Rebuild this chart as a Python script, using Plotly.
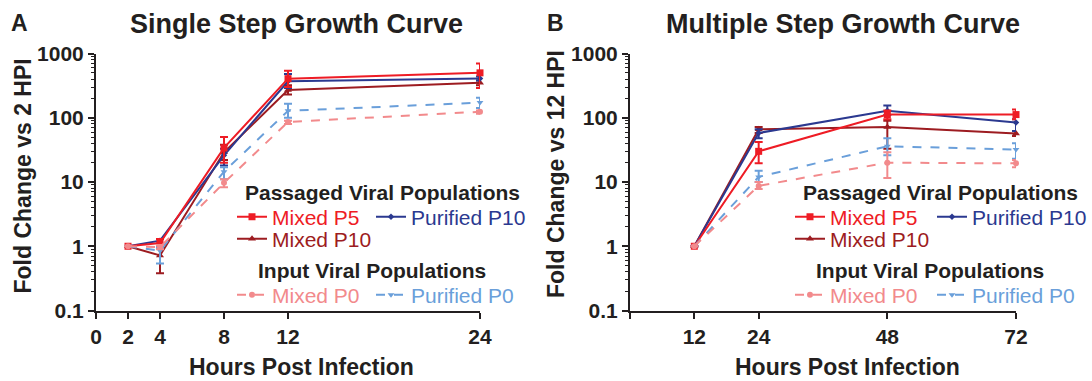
import plotly.graph_objects as go

W, H = 1092, 381
FONT = "Liberation Sans, Arial, sans-serif"
INK = "#231F20"

# ---------------- data ----------------
single_hours = [2, 4, 8, 12, 24]
single_mixed_p5 = [1, 1.12, 34, 406, 500]
single_mixed_p5_hi = [1, 1.3, 50, 540, 700]
single_mixed_p5_lo = [1, 0.95, 20, 300, 290]
single_purified_p10 = [1, 1.22, 26, 370, 410]
single_purified_p10_hi = [1, 1.3, 33, 480, 440]
single_purified_p10_lo = [1, 1.1, 18, 290, 380]
single_mixed_p10 = [1, 0.72, 29, 270, 350]
single_mixed_p10_hi = [1, 0.95, 38, 320, 380]
single_mixed_p10_lo = [1, 0.38, 22, 230, 320]
single_mixed_p0 = [1, 0.97, 9.7, 86, 124]
single_mixed_p0_hi = [1, 1.05, 11, 90, 130]
single_mixed_p0_lo = [1, 0.9, 8.3, 80, 115]
single_purified_p0 = [1, 0.85, 14.5, 128, 172]
single_purified_p0_hi = [1, 0.95, 17, 165, 205]
single_purified_p0_lo = [1, 0.54, 11, 100, 142]

multi_hours = [12, 24, 48, 72]
multi_mixed_p5 = [1, 30, 112, 112]
multi_mixed_p5_hi = [1, 42, 130, 135]
multi_mixed_p5_lo = [1, 19.5, 95, 95]
multi_purified_p10 = [1, 58, 128, 84]
multi_purified_p10_hi = [1, 66, 155, 95]
multi_purified_p10_lo = [1, 48, 110, 62]
multi_mixed_p10 = [1, 66, 72, 57]
multi_mixed_p10_hi = [1, 72, 90, 62]
multi_mixed_p10_lo = [1, 58, 33, 52]
multi_mixed_p0 = [1, 8.7, 20, 19.5]
multi_mixed_p0_hi = [1, 10, 29, 22]
multi_mixed_p0_lo = [1, 7.8, 11.5, 17]
multi_purified_p0 = [1, 12, 36, 32]
multi_purified_p0_hi = [1, 15, 48, 40]
multi_purified_p0_lo = [1, 10, 26, 23]

single_xticks = [0, 2, 4, 8, 12, 24]
single_xticktext = ["0", "2", "4", "8", "12", "24"]
multi_xticks = [0, 12, 24, 48, 72]
multi_xticktext = ["", "12", "24", "48", "72"]
y_ticks = [0.1, 1, 10, 100, 1000]
y_ticktext = ["0.1", "1", "10", "100", "1000"]

# ---------------- styles ----------------
STY = {
    "Mixed P5": dict(color="#EE1C25", dash="solid", symbol="square", size=7),
    "Purified P10": dict(color="#2B3990", dash="solid", symbol="diamond", size=5),
    "Mixed P10": dict(color="#9D1C21", dash="solid", symbol="triangle-up", size=7),
    "Mixed P0": dict(color="#F28A8C", dash="dash", symbol="circle", size=6),
    "Purified P0": dict(color="#6A9FDA", dash="dash", symbol="triangle-down", size=6),
}


def px_x(p):
    return p / W


def px_y(p):
    return 1 - p / H


fig = go.Figure()


def add(name, x, y, hi, lo, xa, ya, legend):
    s = STY[name]
    fig.add_trace(go.Scatter(
        x=x, y=y, mode="lines+markers", xaxis=xa, yaxis=ya, legend=legend,
        name=f"<span style='color:{s['color']}'>{name}</span>",
        line=dict(color=s["color"], width=2, dash=s["dash"]),
        marker=dict(color=s["color"], symbol=s["symbol"], size=s["size"]),
        error_y=dict(type="data", symmetric=False,
                     array=[h - v for h, v in zip(hi, y)],
                     arrayminus=[v - l for v, l in zip(y, lo)],
                     color=s["color"], thickness=2, width=4),
        cliponaxis=False, showlegend=True,
    ))


# Left panel
add("Mixed P10", single_hours, single_mixed_p10, single_mixed_p10_hi, single_mixed_p10_lo, "x", "y", "legend3")
add("Purified P10", single_hours, single_purified_p10, single_purified_p10_hi, single_purified_p10_lo, "x", "y", "legend2")
add("Mixed P5", single_hours, single_mixed_p5, single_mixed_p5_hi, single_mixed_p5_lo, "x", "y", "legend")
add("Purified P0", single_hours, single_purified_p0, single_purified_p0_hi, single_purified_p0_lo, "x", "y", "legend5")
add("Mixed P0", single_hours, single_mixed_p0, single_mixed_p0_hi, single_mixed_p0_lo, "x", "y", "legend4")

# Right panel
add("Mixed P10", multi_hours, multi_mixed_p10, multi_mixed_p10_hi, multi_mixed_p10_lo, "x2", "y2", "legend8")
add("Purified P10", multi_hours, multi_purified_p10, multi_purified_p10_hi, multi_purified_p10_lo, "x2", "y2", "legend7")
add("Mixed P5", multi_hours, multi_mixed_p5, multi_mixed_p5_hi, multi_mixed_p5_lo, "x2", "y2", "legend6")
add("Purified P0", multi_hours, multi_purified_p0, multi_purified_p0_hi, multi_purified_p0_lo, "x2", "y2", "legend10")
add("Mixed P0", multi_hours, multi_mixed_p0, multi_mixed_p0_hi, multi_mixed_p0_lo, "x2", "y2", "legend9")

minor_vals = [k * 10 ** e for e in range(-1, 3) for k in range(2, 10)]

axis_common = dict(showline=True, linecolor=INK, linewidth=2, ticks="outside",
                   tickcolor=INK, tickwidth=2, ticklen=6, showgrid=False, zeroline=False,
                   automargin=False,
                   tickfont=dict(family=FONT, size=21, color=INK, weight="bold"))

y_dom = [px_y(310.5), px_y(53.5)]

yaxis_common = dict(axis_common, type="log", range=[-1, 3], tickvals=y_ticks, ticktext=y_ticktext,
                    domain=y_dom,
                    minor=dict(tickvals=minor_vals, ticks="outside", ticklen=3, tickwidth=1,
                               tickcolor=INK, showgrid=False))

legend_common = dict(orientation="h", bgcolor="rgba(0,0,0,0)", borderwidth=0,
                     font=dict(family=FONT, size=21), itemwidth=30,
                     xanchor="left", yanchor="middle", tracegroupgap=0,
                     itemclick=False, itemdoubleclick=False)

# legend anchor positions (px): text starts ~42px right of the anchor
LEG_POS = {
    "legend": (232, 217), "legend2": (371, 217), "legend3": (232, 239),
    "legend4": (232, 295), "legend5": (371, 295),
    "legend6": (790, 217), "legend7": (932, 217), "legend8": (790, 239),
    "legend9": (790, 295), "legend10": (932, 295),
}
legends = {k: dict(legend_common, x=px_x(v[0]), y=px_y(v[1])) for k, v in LEG_POS.items()}

fig.update_layout(
    width=W, height=H, margin=dict(l=0, r=0, t=0, b=0, pad=0, autoexpand=False),
    paper_bgcolor="white", plot_bgcolor="white",
    font=dict(family=FONT, color=INK),
    xaxis=dict(axis_common, domain=[px_x(96), px_x(480)], range=[0, 24],
               tickvals=single_xticks, ticktext=single_xticktext, anchor="y"),
    yaxis=dict(yaxis_common, anchor="x"),
    xaxis2=dict(axis_common, domain=[px_x(630), px_x(1016)], range=[0, 72],
                tickvals=multi_xticks, ticktext=multi_xticktext, anchor="y2"),
    yaxis2=dict(yaxis_common, anchor="x2"),
    showlegend=True,
    **legends,
)


def ann(text, x, y, size, bold=True, angle=0, color=INK):
    fig.add_annotation(text=text, x=px_x(x), y=px_y(y), xref="paper", yref="paper",
                       xanchor="center", yanchor="middle", showarrow=False, textangle=angle,
                       font=dict(family=FONT, size=size, color=color,
                                 weight="bold" if bold else "normal"))


ann("A", 19.5, 23, 23)
ann("Single Step Growth Curve", 296, 24, 27)
ann("B", 555, 23, 23)
ann("Multiple Step Growth Curve", 843, 24, 27)
ann("Fold Change vs 2 HPI", 22.5, 176, 23, angle=-90)
ann("Fold Change vs 12 HPI", 556, 174, 23, angle=-90)
ann("Hours Post Infection", 301.6, 367, 23)
ann("Hours Post Infection", 847.5, 367, 23)
ann("Passaged Viral Populations", 382, 193, 21)
ann("Input Viral Populations", 371.5, 270, 21)
ann("Passaged Viral Populations", 940.5, 193, 21)
ann("Input Viral Populations", 929.5, 270, 21)

fig.write_html("out.html")
